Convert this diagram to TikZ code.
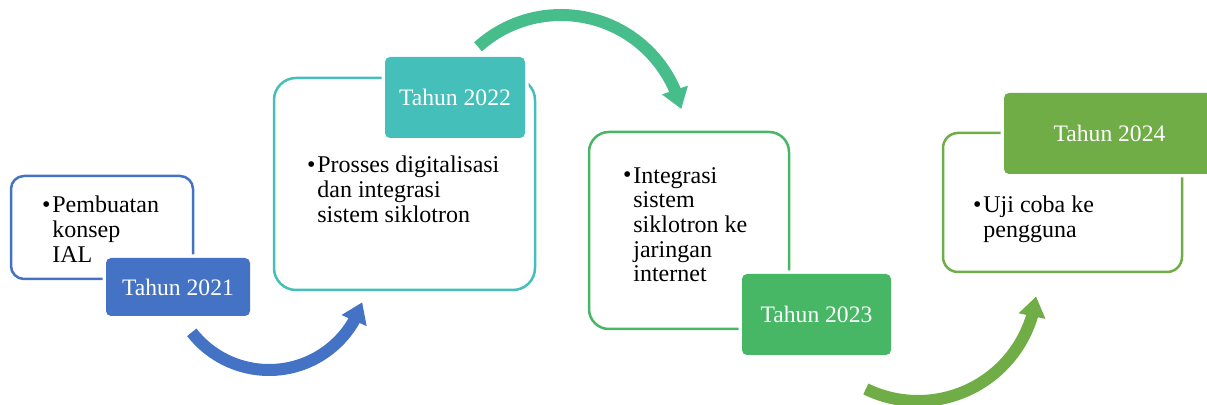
\documentclass[tikz,border=0pt]{standalone}
\usepackage{fontspec}
\setmainfont{Liberation Serif}
\usetikzlibrary{arrows.meta,bending,calc}

\definecolor{biru}{HTML}{4472C4}
\definecolor{toska}{HTML}{45BFBA}
\definecolor{hijautoska}{HTML}{48BD8C}
\definecolor{hijau}{HTML}{47B766}
\definecolor{hijaumuda}{HTML}{70AD47}

\tikzset{
  kotak/.style={draw=#1, line width=1.25pt, fill=white, inner sep=0pt},
  isi/.style={font=\fontsize{12}{12.35}\selectfont, align=left, inner sep=0pt, anchor=base west},
  titik/.style={font=\fontsize{12}{12.35}\selectfont, inner sep=0pt, anchor=base east},
  tahun/.style={fill=#1, text=white, rounded corners=2.5pt, inner sep=0pt,
    font=\fontsize{11.8}{14}\selectfont, preaction={draw=white, line width=3.5pt}},
  panah/.style={draw=#1, line width=6pt, -{Triangle[length=10pt, width=13pt, flex]}}
}

\begin{document}
\begin{tikzpicture}[x=0.5pt, y=-0.5pt]
        \useasboundingbox (0,0) rectangle (1207,405);
        \clip (0,0) rectangle (1207,405);

        % Kotak isi tiap tahun
        \node[kotak=biru, rounded corners=6.5pt, minimum width=91pt, minimum height=51.5pt] (k1) at (102,227.5) {};
        \node[kotak=toska, rounded corners=11pt, minimum width=130.5pt, minimum height=106pt] (k2) at (404.5,184) {};
        \node[kotak=hijau, rounded corners=10pt, minimum width=100pt, minimum height=98.5pt] (k3) at (689,230.5) {};
        \node[kotak=hijaumuda, rounded corners=7.5pt, minimum width=119.5pt, minimum height=69.5pt] (k4) at (1062.5,202.5) {};

        % Poin kegiatan (titik di baris pertama, teks diukur dari baris terakhir)
        \node[titik] (b1) at (51,213) {•};
        \node[isi] (t1) at (52,262.4) {Pembuatan\\konsep\\IAL};
        \node[titik] (b2) at (316,173) {•};
        \node[isi] (t2) at (317,222.4) {Prosses digitalisasi\\dan integrasi\\sistem siklotron};
        \node[titik] (b3) at (632,183) {•};
        \node[isi] (t3) at (633,282) {Integrasi\\sistem\\siklotron ke\\jaringan\\internet};
        \node[titik] (b4) at (982,213) {•};
        \node[isi] (t4) at (983,237.7) {Uji coba ke\\pengguna};

        % Label tahun
        \node[tahun=biru, minimum width=72pt, minimum height=29pt] (th1) at (178,287) {Tahun 2021};
        \node[tahun=toska, minimum width=70pt, minimum height=40.5pt] (th2) at (455,97.5) {Tahun 2022};
        \node[tahun=hijau, minimum width=74.5pt, minimum height=40.5pt] (th3) at (816.5,314.5) {Tahun 2023};
        \node[tahun=hijaumuda, minimum width=105.5pt, minimum height=40.5pt] (th4) at (1109.5,133.5) {Tahun 2024};

        % Panah melengkung antar tahun
        \coordinate (p1) at (269,272);
        \coordinate (p2) at (561,139);
        \coordinate (p3) at (918,282);
        \draw[panah=biru] ($(p1)+(218:49pt)$) arc[start angle=218, end angle=342, radius=49pt];
        \draw[panah=hijautoska] ($(p2)+(132:62pt)$) arc[start angle=132, end angle=14, radius=62pt];
        \draw[panah=hijaumuda] ($(p3)+(244:59.5pt)$) arc[start angle=244, end angle=353, radius=59.5pt];
\end{tikzpicture}
\end{document}
